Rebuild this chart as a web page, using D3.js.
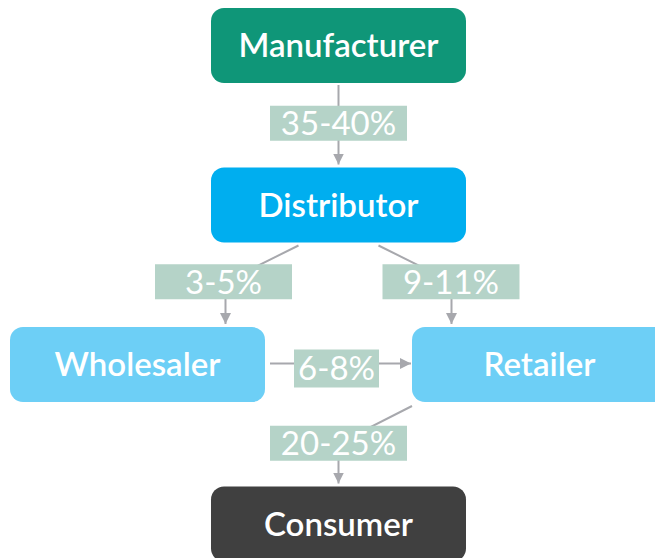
<!DOCTYPE html>
<html><head><meta charset="utf-8">
<script src="https://cdn.jsdelivr.net/npm/d3@7/dist/d3.min.js"></script>
<style>
html,body{margin:0;padding:0;background:#fff;}
svg{display:block;font-family:Lato, "Open Sans", sans-serif;}
</style></head>
<body>
<svg id="chart" width="655" height="558"></svg>
<script>
// Data
const nodeNames = ["Manufacturer", "Distributor", "Wholesaler", "Retailer", "Consumer"];
const nodeRows  = [0, 1, 2, 2, 3];
const nodeCols  = [0, 0, -1, 1, 0];
const nodeKinds = ["maker", "dist", "mid", "mid", "end"];

const edgeSources = ["Manufacturer", "Distributor", "Distributor", "Wholesaler", "Retailer"];
const edgeTargets = ["Distributor", "Wholesaler", "Retailer", "Retailer", "Consumer"];
const edgeLabels  = ["35-40%", "3-5%", "9-11%", "6-8%", "20-25%"];

const colors = {maker:"#0f9678", dist:"#00aeef", mid:"#6dcff6", end:"#404040"};
const lineColor = "#a7a8ad";
const labelBg = "#b5d3c8";

const svg = d3.select("#chart");
const x = d3.scaleLinear().domain([-1, 1]).range([137.5, 539.5]);
const y = d3.scaleLinear().domain([0, 3]).range([45.5, 524]);
const boxW = 255, boxH = 75, rad = 13;
const fs = 33;

const nodes = nodeNames.map((n, i) => ({name:n, cx:x(nodeCols[i]), cy:y(nodeRows[i]), kind:nodeKinds[i]}));
const byName = Object.fromEntries(nodes.map(d => [d.name, d]));

svg.append("defs").append("marker")
  .attr("id", "arrow").attr("viewBox", "0 0 10 10").attr("refX", 10).attr("refY", 5)
  .attr("markerWidth", 11).attr("markerHeight", 11).attr("markerUnits", "userSpaceOnUse")
  .attr("orient", "auto")
  .append("path").attr("d", "M0,0L10,5L0,10Z").attr("fill", lineColor);

// edges
const edges = edgeLabels.map((l, i) => {
  const s = byName[edgeSources[i]], t = byName[edgeTargets[i]];
  let pts, lx, ly, lw;
  if (s.cy === t.cy) {
    const x0 = s.cx + boxW/2 + 5, x1 = t.cx - boxW/2 - 1;
    pts = [[x0, s.cy - 1], [x1, s.cy - 1]];
    lx = (x0 + x1) / 2 - 4; ly = s.cy + 4; lw = null;
  } else if (s.cx === t.cx) {
    const y0 = s.cy + boxH/2 + 2, y1 = t.cy - boxH/2 - 3;
    pts = [[s.cx, y0], [t.cx, y1]];
    lx = s.cx; ly = (s.cy + boxH/2 + t.cy - boxH/2)/2 - 2; lw = 137;
  } else if (s.name === "Distributor") {
    const dir = t.cx < s.cx ? -1 : 1;
    const y0 = s.cy + boxH/2 + 3, y1 = t.cy - boxH/2 - 3;
    const ax = t.cx - dir * 88;
    ly = (s.cy + boxH/2 + t.cy - boxH/2)/2 - 3;
    pts = [[s.cx + dir*40, y0], [ax, ly], [ax, y1]];
    lx = ax + (dir < 0 ? -2 : -0.5); lw = 137;
  } else {
    const y0 = s.cy + boxH/2 + 4, y1 = t.cy - boxH/2 - 3;
    ly = (s.cy + boxH/2 + t.cy - boxH/2)/2 - 1;
    pts = [[s.cx - boxW/2, y0], [t.cx, ly], [t.cx, y1]];
    lx = t.cx; lw = 137;
  }
  return {label:l, pts, lx, ly, lw};
});

const eg = svg.append("g");
eg.selectAll("path.edge").data(edges).join("path")
  .attr("class", "edge")
  .attr("d", d => d3.line()(d.pts))
  .attr("fill", "none").attr("stroke", lineColor).attr("stroke-width", 2)
  .attr("marker-end", "url(#arrow)");

const lg = eg.selectAll("g.lab").data(edges).join("g").attr("class", "lab");
lg.each(function(d) {
  const g = d3.select(this);
  const rect = g.append("rect").attr("fill", labelBg);
  const t = g.append("text").attr("x", d.lx).attr("y", d.ly).attr("dy", "0.36em")
    .attr("text-anchor", "middle").attr("fill", "#fff").attr("font-size", fs).text(d.label);
  const w = d.lw || (t.node().getComputedTextLength() + 8);
  const h = d.lw ? 35 : 38;
  rect.attr("x", d.lx - w/2).attr("y", d.ly - h/2).attr("width", w).attr("height", h);
});

// nodes
const ng = svg.append("g").selectAll("g").data(nodes).join("g");
ng.append("rect")
  .attr("x", d => d.cx - boxW/2).attr("y", d => d.cy - boxH/2)
  .attr("width", boxW).attr("height", boxH).attr("rx", rad).attr("ry", rad)
  .attr("fill", d => colors[d.kind]);
ng.append("text")
  .attr("x", d => d.cx).attr("y", d => d.cy).attr("dy", "0.36em")
  .attr("text-anchor", "middle").attr("fill", "#fff")
  .attr("font-size", fs).attr("font-weight", 600)
  .text(d => d.name);
</script>
</body></html>
